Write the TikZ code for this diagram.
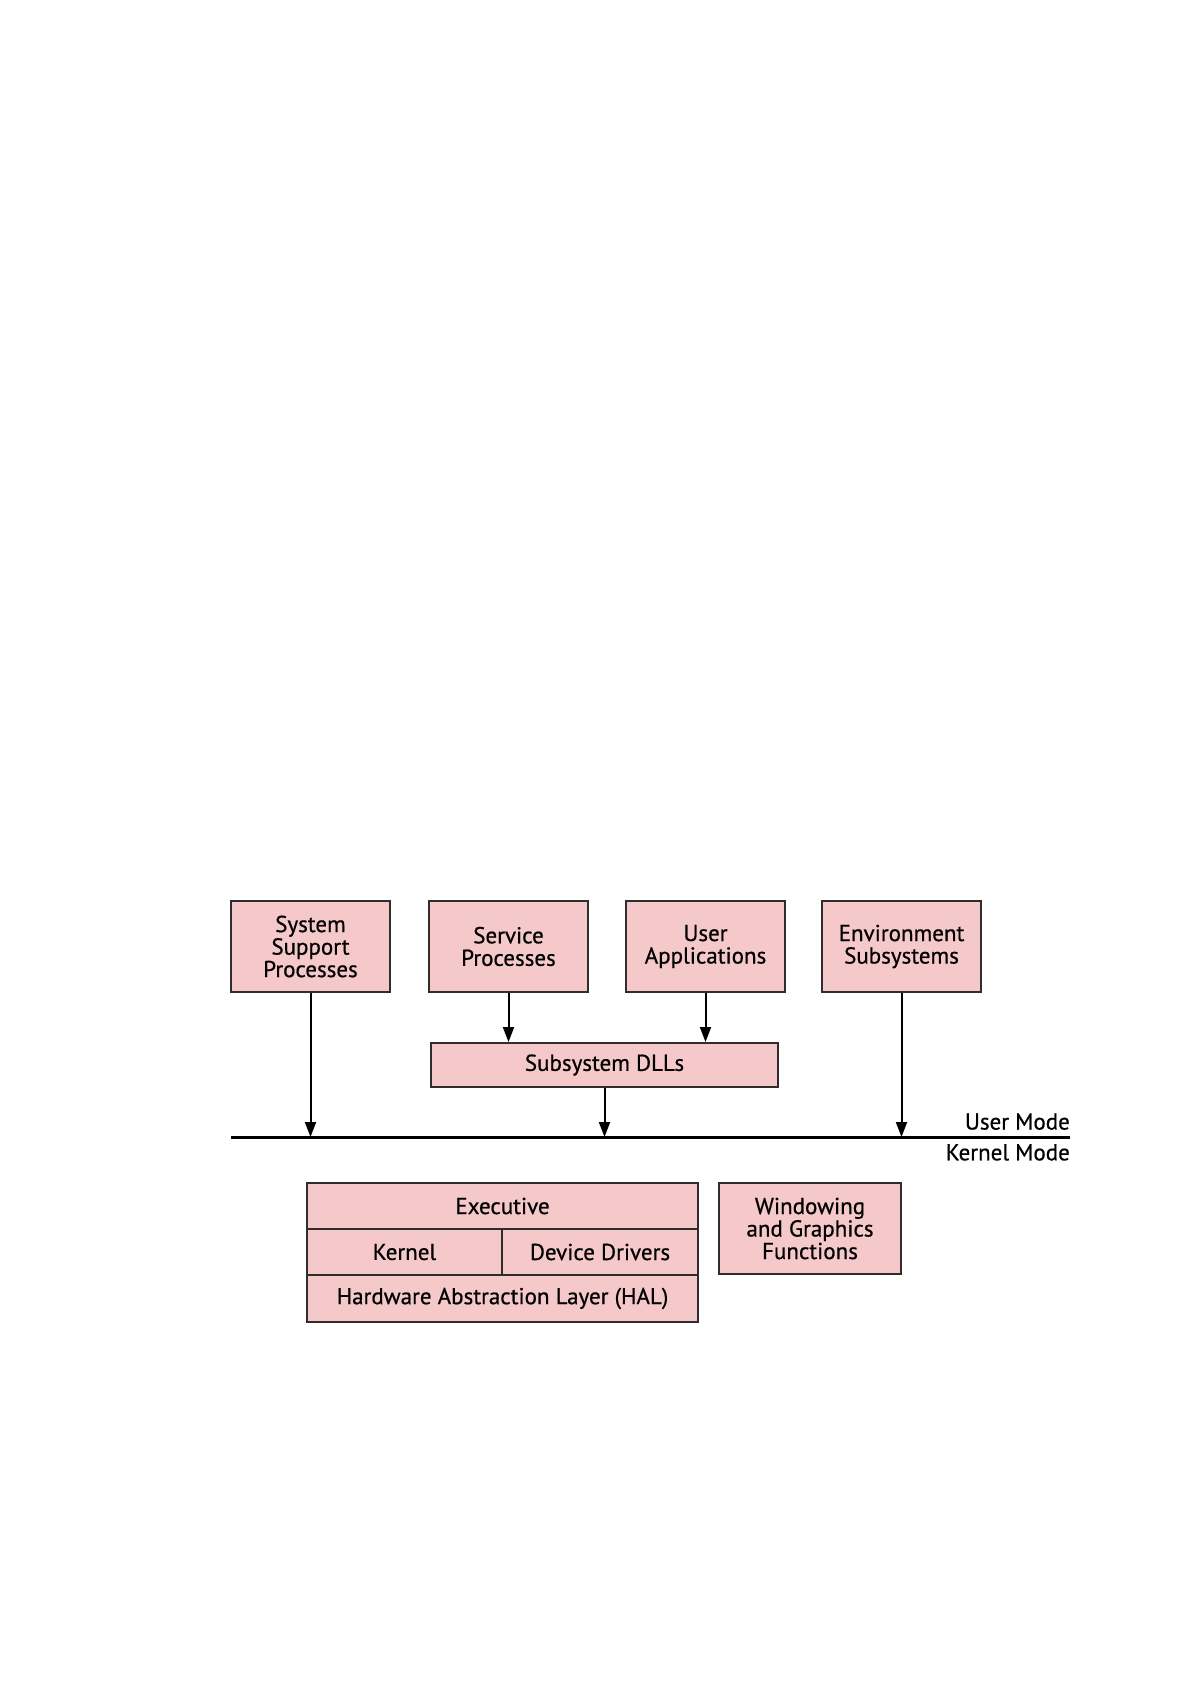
\documentclass[tikz,border=0pt]{standalone}
\usepackage{fontspec}
\setmainfont{PT Sans}
\newfontfamily\diagfont{PT Sans}[FakeBold=0.6]
\usetikzlibrary{arrows.meta}
\usetikzlibrary{positioning}
\definecolor{boxpink}{RGB}{245,200,202}
\definecolor{boxline}{RGB}{50,45,45}
\tikzset{
    block/.style={draw=boxline, line width=2pt, fill=boxpink, align=center,
        inner sep=0pt, font=\diagfont\fontsize{23}{22.5}\selectfont},
    flow/.style={line width=2pt, -{Triangle[length=15pt,width=11pt]}},
    modelbl/.style={font=\diagfont\fontsize{23}{22.5}\selectfont, inner sep=0pt}
}

\begin{document}
\begin{tikzpicture}[x=1pt,y=-1pt]
    \useasboundingbox (0,0) rectangle (1192,1685);
    % user mode processes
    \node[block, minimum width=159pt, minimum height=91pt] (sysproc) at (310.5,946.5) {System\\Support\\Processes};
    \node[block, minimum width=159pt, minimum height=91pt] (svcproc) at (508.5,946.5) {Service\\Processes};
    \node[block, minimum width=159pt, minimum height=91pt] (userapp) at (705.5,946.5) {User\\Applications};
    \node[block, minimum width=159pt, minimum height=91pt] (envsub) at (901.5,946.5) {Environment\\Subsystems};
    \node[block, minimum width=347pt, minimum height=44pt] (dlls) at (604.5,1065) {Subsystem DLLs};
    % mode boundary
    \coordinate (lineL) at (231,1137);
    \coordinate (lineR) at (1070,1137);
    \draw[line width=3pt] (lineL) -- (lineR);
    \node[modelbl, anchor=south east] (usermode) at (1070,1130) {User Mode};
    \node[modelbl, anchor=north east] (kernelmode) at (1070,1144) {Kernel Mode};
    \draw[flow] (svcproc.south) -- (svcproc.south |- dlls.north);
    \draw[flow] (userapp.south) -- (userapp.south |- dlls.north);
    \draw[flow] (sysproc.south) -- (sysproc.south |- lineL);
    \draw[flow] (dlls.south) -- (dlls.south |- lineL);
    \draw[flow] (envsub.south) -- (envsub.south |- lineL);
    % kernel mode components
    \node[block, minimum width=391pt, minimum height=46pt] (exec) at (502.5,1206) {Executive};
    \node[block, minimum width=195pt, minimum height=46pt] (kernel) at (404.5,1252) {Kernel};
    \node[block, minimum width=196pt, minimum height=46pt] (drivers) at (600,1252) {Device Drivers};
    \node[block, minimum width=391pt, minimum height=47pt] (hal) at (502.5,1298.5) {Hardware Abstraction Layer (HAL)};
    \node[block, minimum width=182pt, minimum height=91pt] (windowing) at (810,1228.5) {Windowing\\and Graphics\\Functions};
\end{tikzpicture}
\end{document}
